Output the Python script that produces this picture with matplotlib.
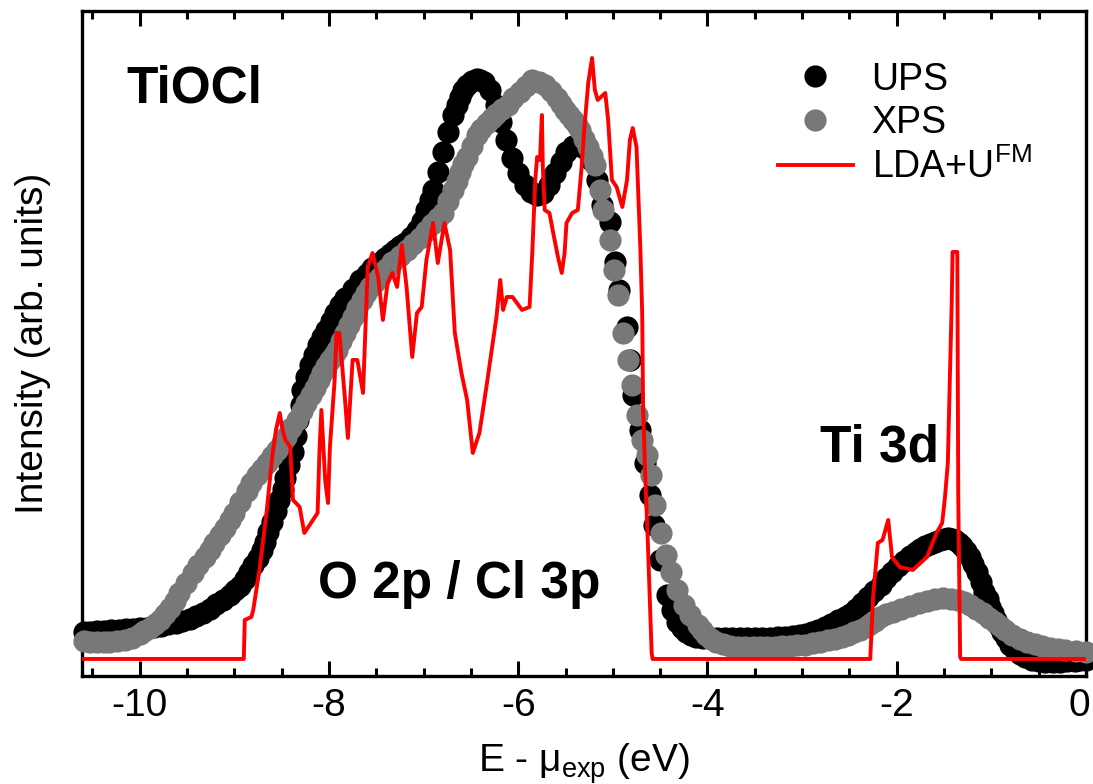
import matplotlib
matplotlib.use('Agg')
from matplotlib import pyplot as plt
from matplotlib.ticker import MultipleLocator, NullLocator, FuncFormatter

plt.rcParams['font.family'] = ['Liberation Sans', 'DejaVu Sans']
plt.rcParams['mathtext.default'] = 'regular'
plt.rcParams['axes.unicode_minus'] = False

# UPS spectrum (black dots)
ups_e = [-10.59, -10.52, -10.45, -10.38, -10.30, -10.22, -10.15, -10.07, -10.00, -9.92,
         -9.85, -9.77, -9.70, -9.62, -9.55, -9.47, -9.40, -9.33, -9.26, -9.19,
         -9.12, -9.05, -8.99, -8.94, -8.89, -8.84, -8.80, -8.75, -8.71, -8.68,
         -8.64, -8.60, -8.56, -8.53, -8.49, -8.46, -8.42, -8.38, -8.35, -8.33,
         -8.30, -8.28, -8.24, -8.20, -8.16, -8.12, -8.07, -8.03, -7.98, -7.94,
         -7.88, -7.83, -7.75, -7.67, -7.60, -7.54, -7.47, -7.41, -7.35, -7.30,
         -7.25, -7.20, -7.13, -7.07, -7.02, -6.97, -6.93, -6.90, -6.85, -6.80,
         -6.74, -6.69, -6.65, -6.62, -6.58, -6.54, -6.49, -6.44, -6.40, -6.36,
         -6.30, -6.24, -6.18, -6.13, -6.07, -6.00, -5.93, -5.87, -5.80, -5.74,
         -5.68, -5.61, -5.55, -5.49, -5.42, -5.36, -5.30, -5.23, -5.17, -5.11,
         -5.03, -4.98, -4.93, -4.85, -4.82, -4.79, -4.71, -4.66, -4.61, -4.56,
         -4.50, -4.43, -4.38, -4.32, -4.27, -4.23, -4.17, -4.12, -4.05, -3.97,
         -3.90, -3.82, -3.74, -3.66, -3.58, -3.50, -3.42, -3.34, -3.26, -3.18,
         -3.10, -3.02, -2.96, -2.90, -2.83, -2.76, -2.69, -2.62, -2.55, -2.49,
         -2.43, -2.37, -2.30, -2.24, -2.17, -2.11, -2.05, -1.99, -1.92, -1.86,
         -1.80, -1.75, -1.70, -1.65, -1.60, -1.54, -1.50, -1.46, -1.42, -1.38,
         -1.34, -1.31, -1.27, -1.23, -1.19, -1.15, -1.11, -1.08, -1.04, -1.01,
         -0.98, -0.95, -0.92, -0.89, -0.85, -0.80, -0.75, -0.70, -0.64, -0.57,
         -0.50, -0.43, -0.35, -0.27, -0.20, -0.12, -0.06, 0.00]
ups_i = [27, 27, 28, 28, 29, 29, 30, 30, 31, 31,
         32, 33, 35, 36, 38, 40, 43, 46, 50, 55,
         59, 64, 69, 73, 80, 87, 94, 101, 109, 117,
         127, 137, 148, 159, 170, 181, 194, 207, 223, 239,
         254, 269, 282, 294, 304, 314, 322, 329, 338, 346,
         354, 361, 370, 379, 385, 391, 396, 401, 405, 409,
         413, 416, 422, 429, 438, 449, 459, 469, 487, 507,
         527, 544, 554, 562, 569, 574, 578, 580, 579, 577,
         569, 554, 537, 519, 501, 486, 474, 467, 464, 466,
         474, 486, 497, 507, 513, 514, 511, 499, 479, 454,
         437, 397, 369, 332, 299, 264, 229, 196, 164, 134,
         99, 64, 49, 37, 31, 27, 24, 22, 21, 21,
         21, 21, 21, 21, 21, 21, 21, 21, 22, 22,
         23, 24, 25, 27, 29, 32, 35, 39, 42, 45,
         50, 56, 62, 68, 74, 81, 87, 93, 98, 103,
         107, 110, 113, 115, 117, 119, 120, 121, 120, 119,
         116, 113, 108, 102, 95, 87, 77, 67, 60, 52,
         46, 39, 33, 27, 21, 14, 9, 5, 2, -1,
         -2, -3, -3, -3, -2, -2, -1, -1]

# XPS spectrum (grey dots)
xps_e = [-10.59, -10.52, -10.45, -10.38, -10.32, -10.24, -10.16, -10.08, -10.00, -9.95,
         -9.89, -9.84, -9.79, -9.73, -9.68, -9.63, -9.58, -9.51, -9.44, -9.38,
         -9.31, -9.26, -9.21, -9.15, -9.10, -9.05, -9.00, -8.94, -8.87, -8.82,
         -8.76, -8.71, -8.66, -8.60, -8.55, -8.50, -8.45, -8.40, -8.34, -8.29,
         -8.24, -8.19, -8.15, -8.11, -8.07, -8.03, -7.99, -7.95, -7.92, -7.87,
         -7.83, -7.79, -7.75, -7.70, -7.65, -7.61, -7.57, -7.51, -7.46, -7.40,
         -7.33, -7.25, -7.18, -7.11, -7.04, -6.97, -6.91, -6.85, -6.80, -6.74,
         -6.69, -6.65, -6.62, -6.58, -6.54, -6.49, -6.44, -6.39, -6.33, -6.28,
         -6.23, -6.17, -6.11, -6.05, -5.98, -5.92, -5.85, -5.78, -5.72, -5.65,
         -5.59, -5.55, -5.51, -5.46, -5.42, -5.38, -5.35, -5.30, -5.26, -5.22,
         -5.19, -5.14, -5.10, -5.03, -4.99, -4.95, -4.89, -4.84, -4.80, -4.75,
         -4.69, -4.64, -4.60, -4.55, -4.49, -4.44, -4.39, -4.32, -4.25, -4.18,
         -4.10, -4.06, -4.02, -3.96, -3.91, -3.84, -3.76, -3.68, -3.60, -3.52,
         -3.45, -3.37, -3.29, -3.21, -3.13, -3.05, -2.97, -2.89, -2.81, -2.73,
         -2.65, -2.58, -2.52, -2.45, -2.39, -2.33, -2.28, -2.23, -2.18, -2.11,
         -2.04, -1.95, -1.86, -1.77, -1.68, -1.60, -1.51, -1.43, -1.35, -1.29,
         -1.23, -1.16, -1.09, -1.03, -0.96, -0.91, -0.86, -0.78, -0.70, -0.62,
         -0.54, -0.46, -0.38, -0.30, -0.22, -0.11, 0.00]
xps_i = [18, 17, 17, 17, 17, 18, 19, 21, 25, 28,
         31, 35, 39, 45, 51, 58, 66, 76, 86, 94,
         102, 109, 116, 124, 131, 139, 146, 157, 168, 176,
         184, 190, 196, 203, 209, 216, 222, 231, 239, 248,
         256, 264, 271, 279, 286, 293, 299, 304, 309, 318,
         326, 334, 342, 351, 359, 366, 372, 377, 382, 390,
         397, 403, 409, 415, 421, 428, 435, 441, 446, 458,
         469, 478, 487, 495, 502, 513, 524, 530, 536, 541,
         545, 550, 554, 561, 567, 573, 579, 577, 574, 568,
         561, 555, 549, 544, 539, 534, 529, 520, 512, 503,
         494, 469, 449, 419, 389, 364, 326, 299, 274, 244,
         219, 204, 184, 154, 126, 104, 87, 69, 54, 44,
         34, 29, 24, 20, 17, 15, 13, 12, 12, 12,
         12, 12, 12, 13, 13, 14, 14, 16, 17, 19,
         20, 22, 24, 27, 29, 32, 35, 38, 42, 45,
         47, 50, 53, 56, 58, 60, 61, 60, 59, 57,
         54, 50, 46, 41, 37, 33, 29, 24, 20, 17,
         15, 13, 11, 10, 9, 8, 7]

# LDA+U (FM) density of states (red line)
lda_e = [-10.61, -8.90, -8.89, -8.82, -8.80, -8.73, -8.66, -8.60, -8.56, -8.52,
         -8.49, -8.46, -8.41, -8.38, -8.31, -8.26, -8.19, -8.12, -8.10, -8.08,
         -8.04, -8.01, -7.99, -7.94, -7.92, -7.89, -7.83, -7.80, -7.75, -7.70,
         -7.64, -7.59, -7.54, -7.48, -7.43, -7.38, -7.33, -7.28, -7.23, -7.18,
         -7.12, -7.07, -7.02, -6.97, -6.90, -6.85, -6.78, -6.72, -6.67, -6.60,
         -6.54, -6.48, -6.41, -6.33, -6.23, -6.19, -6.16, -6.12, -6.06, -5.96,
         -5.88, -5.85, -5.82, -5.80, -5.77, -5.75, -5.74, -5.72, -5.67, -5.63,
         -5.58, -5.54, -5.51, -5.49, -5.43, -5.37, -5.33, -5.30, -5.26, -5.22,
         -5.19, -5.16, -5.08, -5.05, -5.01, -4.96, -4.90, -4.85, -4.82, -4.79,
         -4.75, -4.71, -4.69, -4.68, -4.66, -4.63, -4.59, -4.58, -2.28, -2.25,
         -2.20, -2.15, -2.09, -2.05, -1.97, -1.83, -1.68, -1.58, -1.52, -1.49,
         -1.46, -1.44, -1.42, -1.41, -1.36, -1.35, -1.33, -1.32, 0.00]
lda_i = [0, 0, 39, 42, 49, 92, 146, 202, 229, 246,
         229, 219, 212, 159, 152, 126, 136, 146, 209, 249,
         179, 156, 212, 279, 326, 326, 259, 221, 299, 299,
         266, 392, 406, 382, 339, 376, 386, 372, 414, 372,
         302, 346, 352, 399, 436, 396, 436, 409, 326, 286,
         259, 206, 226, 276, 342, 379, 349, 362, 362, 349,
         352, 409, 479, 502, 499, 544, 492, 449, 446, 426,
         402, 386, 406, 436, 446, 449, 492, 532, 576, 601,
         569, 559, 566, 539, 479, 472, 452, 479, 519, 531,
         512, 412, 346, 249, 189, 116, 6, 0, 0, 62,
         116, 119, 139, 102, 92, 89, 102, 126, 136, 162,
         196, 276, 352, 407, 407, 162, 2, 0, 0]

fig = plt.figure(figsize=(10.93, 7.84), dpi=100)
ax = fig.add_axes([0.075, 0.1378, 0.9186, 0.8482])

ax.plot(ups_e, ups_i, 'o', color='black', ms=16, mew=0, clip_on=False, label='UPS', zorder=2)
ax.plot(xps_e, xps_i, 'o', color='#787878', ms=16, mew=0, clip_on=False, label='XPS', zorder=3)
ax.plot(lda_e, lda_i, '-', color='#ff0000', lw=2.8, label='LDA+U$^{FM}$', zorder=4)

ax.set_xlim(-10.61, 0)
ax.set_ylim(-17, 648)

ax.xaxis.set_major_locator(MultipleLocator(2))
ax.xaxis.set_minor_locator(MultipleLocator(0.5))
# the "0" at the right edge is written separately, a little to the left
ax.xaxis.set_major_formatter(FuncFormatter(lambda v, p: '' if abs(v) < 1e-9 else '%d' % round(v)))
ax.yaxis.set_major_locator(NullLocator())
ax.tick_params(axis='x', which='both', direction='in', top=True, bottom=True,
               width=2.2, labelsize=28, pad=9)
ax.tick_params(axis='x', which='major', length=11)
ax.tick_params(axis='x', which='minor', length=6)
for s in ax.spines.values():
    s.set_linewidth(2.4)

ax.annotate('0', xy=(0, 0), xycoords=('data', 'axes fraction'), xytext=(-5, -9),
            textcoords='offset points', ha='center', va='top', fontsize=28)

ax.set_xlabel('E - μ$_{exp}$ (eV)', fontsize=28, labelpad=12)
ax.set_ylabel('Intensity (arb. units)', fontsize=28, labelpad=22)

ax.text(0.044, 0.862, 'TiOCl', transform=ax.transAxes, fontsize=37,
        fontweight='bold', va='baseline')
ax.text(0.235, 0.117, 'O 2p / Cl 3p', transform=ax.transAxes, fontsize=37,
        fontweight='bold', va='baseline')
ax.text(0.735, 0.322, 'Ti 3d', transform=ax.transAxes, fontsize=37,
        fontweight='bold', va='baseline')

ax.legend(loc='upper left', bbox_to_anchor=(0.693, 0.924), frameon=False,
          fontsize=27, numpoints=1, handlelength=2.0, handletextpad=0.5,
          labelspacing=0.2, borderpad=0, borderaxespad=0)

plt.savefig('out.png', dpi=100)
